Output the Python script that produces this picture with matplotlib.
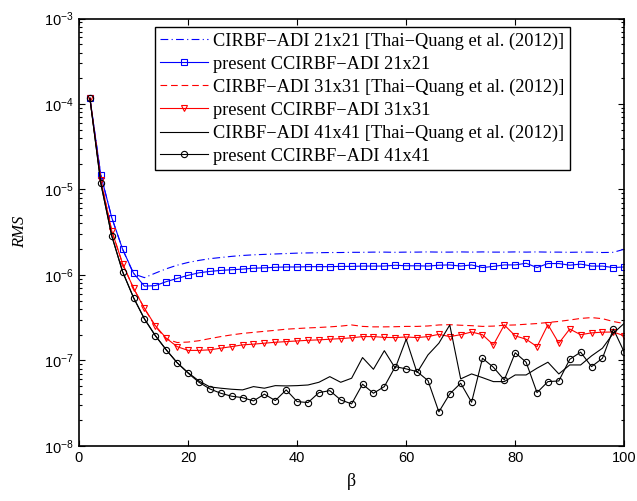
import numpy as np
import matplotlib
matplotlib.use('Agg')
import matplotlib.pyplot as plt

plt.rcParams['font.family'] = ['Liberation Sans', 'DejaVu Sans']
plt.rcParams['mathtext.fontset'] = 'custom'
plt.rcParams['mathtext.rm'] = 'Liberation Sans'
plt.rcParams['mathtext.it'] = 'Liberation Sans:italic'

beta = [2, 4, 6, 8, 10, 12, 14, 16, 18, 20, 22, 24, 26, 28, 30, 32, 34, 36, 38, 40,
        42, 44, 46, 48, 50, 52, 54, 56, 58, 60, 62, 64, 66, 68, 70, 72, 74, 76, 78, 80,
        82, 84, 86, 88, 90, 92, 94, 96, 98, 100]

# CIRBF-ADI 21x21 [Thai-Quang et al. (2012)]
cirbf21 = [1.17e-4, 1.48e-5, 4.7e-6, 2.0e-6, 1.03e-6, 9.3e-7, 1.05e-6, 1.18e-6, 1.30e-6, 1.40e-6,
           1.48e-6, 1.55e-6, 1.60e-6, 1.65e-6, 1.69e-6, 1.72e-6, 1.74e-6, 1.76e-6, 1.78e-6, 1.80e-6,
           1.81e-6, 1.82e-6, 1.83e-6, 1.83e-6, 1.84e-6, 1.84e-6, 1.85e-6, 1.85e-6, 1.84e-6, 1.85e-6,
           1.85e-6, 1.86e-6, 1.85e-6, 1.85e-6, 1.86e-6, 1.85e-6, 1.86e-6, 1.85e-6, 1.85e-6, 1.86e-6,
           1.85e-6, 1.86e-6, 1.85e-6, 1.85e-6, 1.84e-6, 1.85e-6, 1.85e-6, 1.83e-6, 1.84e-6, 2.0e-6]
# present CCIRBF-ADI 21x21
pres21 = [1.17e-4, 1.48e-5, 4.7e-6, 2.0e-6, 1.05e-6, 7.4e-7, 7.5e-7, 8.35e-7, 9.1e-7, 9.9e-7,
          1.06e-6, 1.10e-6, 1.13e-6, 1.15e-6, 1.17e-6, 1.20e-6, 1.21e-6, 1.23e-6, 1.24e-6, 1.24e-6,
          1.25e-6, 1.25e-6, 1.25e-6, 1.26e-6, 1.26e-6, 1.27e-6, 1.27e-6, 1.27e-6, 1.30e-6, 1.28e-6,
          1.28e-6, 1.27e-6, 1.30e-6, 1.31e-6, 1.27e-6, 1.31e-6, 1.22e-6, 1.26e-6, 1.31e-6, 1.31e-6,
          1.37e-6, 1.22e-6, 1.36e-6, 1.36e-6, 1.30e-6, 1.34e-6, 1.27e-6, 1.27e-6, 1.22e-6, 1.24e-6]
# CIRBF-ADI 31x31 [Thai-Quang et al. (2012)]
cirbf31 = [1.17e-4, 1.29e-5, 3.3e-6, 1.35e-6, 7.0e-7, 4.05e-7, 2.5e-7, 1.78e-7, 1.62e-7, 1.64e-7,
           1.70e-7, 1.80e-7, 1.90e-7, 1.99e-7, 2.07e-7, 2.13e-7, 2.19e-7, 2.25e-7, 2.32e-7, 2.36e-7,
           2.40e-7, 2.43e-7, 2.47e-7, 2.52e-7, 2.60e-7, 2.50e-7, 2.47e-7, 2.47e-7, 2.48e-7, 2.50e-7,
           2.50e-7, 2.53e-7, 2.60e-7, 2.62e-7, 2.58e-7, 2.55e-7, 2.50e-7, 2.52e-7, 2.58e-7, 2.60e-7,
           2.65e-7, 2.70e-7, 2.78e-7, 2.86e-7, 2.97e-7, 3.10e-7, 3.17e-7, 3.08e-7, 2.85e-7, 2.70e-7]
# present CCIRBF-ADI 31x31
pres31 = [1.17e-4, 1.29e-5, 3.3e-6, 1.35e-6, 7.0e-7, 4.07e-7, 2.55e-7, 1.82e-7, 1.45e-7, 1.31e-7,
          1.31e-7, 1.33e-7, 1.39e-7, 1.45e-7, 1.52e-7, 1.55e-7, 1.59e-7, 1.63e-7, 1.66e-7, 1.69e-7,
          1.72e-7, 1.74e-7, 1.77e-7, 1.80e-7, 1.84e-7, 1.90e-7, 1.90e-7, 1.86e-7, 1.85e-7, 1.88e-7,
          1.85e-7, 1.90e-7, 2.02e-7, 1.90e-7, 2.00e-7, 2.15e-7, 2.00e-7, 1.52e-7, 2.60e-7, 1.94e-7,
          1.77e-7, 1.45e-7, 2.62e-7, 1.59e-7, 2.33e-7, 2.00e-7, 2.10e-7, 2.14e-7, 2.15e-7, 1.94e-7]
# CIRBF-ADI 41x41 [Thai-Quang et al. (2012)]
cirbf41 = [1.17e-4, 1.18e-5, 2.88e-6, 1.09e-6, 5.43e-7, 3.06e-7, 1.95e-7, 1.33e-7, 9.4e-8, 7.2e-8,
           5.75e-8, 4.9e-8, 4.73e-8, 4.6e-8, 4.52e-8, 4.94e-8, 4.73e-8, 5.07e-8, 5.03e-8, 5.07e-8,
           5.16e-8, 5.55e-8, 6.46e-8, 5.55e-8, 6.19e-8, 1.08e-7, 7.88e-8, 1.30e-7, 8.11e-8, 1.77e-7,
           7.19e-8, 1.16e-7, 1.59e-7, 2.60e-7, 6.08e-8, 6.95e-8, 6.29e-8, 5.65e-8, 5.65e-8, 6.76e-8,
           6.76e-8, 8.11e-8, 9.53e-8, 6.95e-8, 8.85e-8, 8.85e-8, 1.13e-7, 1.39e-7, 2.08e-7, 2.72e-7]
# present CCIRBF-ADI 41x41
pres41 = [1.17e-4, 1.18e-5, 2.88e-6, 1.09e-6, 5.43e-7, 3.06e-7, 1.95e-7, 1.33e-7, 9.4e-8, 7.1e-8,
          5.55e-8, 4.64e-8, 4.13e-8, 3.81e-8, 3.67e-8, 3.36e-8, 4.03e-8, 3.39e-8, 4.52e-8, 3.30e-8,
          3.21e-8, 4.20e-8, 4.43e-8, 3.45e-8, 3.10e-8, 5.27e-8, 4.13e-8, 4.94e-8, 8.46e-8, 7.96e-8,
          7.40e-8, 5.81e-8, 2.50e-8, 4.06e-8, 5.41e-8, 3.24e-8, 1.06e-7, 8.32e-8, 5.91e-8, 1.23e-7,
          9.53e-8, 4.20e-8, 5.65e-8, 5.75e-8, 1.03e-7, 1.25e-7, 8.46e-8, 1.06e-7, 2.33e-7, 1.25e-7]

fig = plt.figure(figsize=(6.37, 5.01), dpi=100)
ax = fig.add_axes([0.124, 0.110, 0.856, 0.853])

lw = 0.8
ax.plot(beta, cirbf21, color='blue', lw=lw, dashes=(7, 3, 1, 3),
        label='CIRBF\u2212ADI 21x21 [Thai\u2212Quang et al. (2012)]')
ax.plot(beta, pres21, color='blue', lw=lw, marker='s', ms=4, mfc='none', mew=0.8,
        label='present CCIRBF\u2212ADI 21x21')
ax.plot(beta, cirbf31, color='red', lw=lw, dashes=(6, 3.5),
        label='CIRBF\u2212ADI 31x31 [Thai\u2212Quang et al. (2012)]')
ax.plot(beta, pres31, color='red', lw=lw, marker='v', ms=5, mfc='none', mew=0.8,
        label='present CCIRBF\u2212ADI 31x31')
ax.plot(beta, cirbf41, color='black', lw=lw,
        label='CIRBF\u2212ADI 41x41 [Thai\u2212Quang et al. (2012)]')
ax.plot(beta, pres41, color='black', lw=lw, marker='o', ms=4.5, mfc='none', mew=0.8,
        label='present CCIRBF\u2212ADI 41x41')

ax.set_yscale('log')
ax.set_xlim(0, 100)
ax.set_ylim(1e-8, 1e-3)
ax.set_xticks([0, 20, 40, 60, 80, 100])
ax.tick_params(which='both', direction='in', top=True, right=True, labelsize=10.5, width=0.8)
ax.tick_params(which='major', length=4)
ax.tick_params(which='minor', length=2.5)
for s in ax.spines.values():
    s.set_linewidth(1.2)

ax.set_xlabel('\u03b2', family='Liberation Serif', fontsize=13, labelpad=6)
ax.set_ylabel('RMS', family='Liberation Serif', style='italic', fontsize=12, labelpad=12)

leg = ax.legend(loc='upper left', bbox_to_anchor=(0.139, 0.98), numpoints=1,
                prop={'family': 'Liberation Serif', 'size': 13.2}, handlelength=2.6,
                fancybox=False, framealpha=1, edgecolor='black', borderaxespad=0,
                labelspacing=0.32, handletextpad=0.3, borderpad=0.3)
leg.get_frame().set_linewidth(1.0)

fig.savefig('out.png', dpi=100)
